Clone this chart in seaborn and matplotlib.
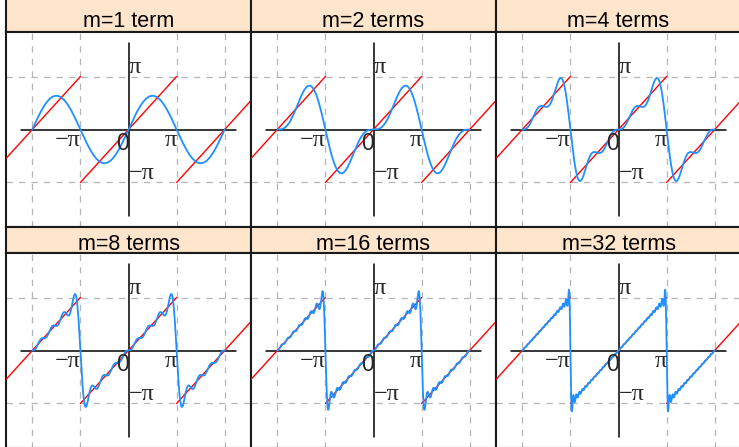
import numpy as np
import pandas as pd
import matplotlib
matplotlib.use("Agg")
import matplotlib.pyplot as plt
import seaborn as sns

# ---- data ----
term_counts = [1, 2, 4, 8, 16, 32]
panel_titles = ["m=1 term", "m=2 terms", "m=4 terms",
                "m=8 terms", "m=16 terms", "m=32 terms"]
x_tick_values = [-np.pi, np.pi]
x_tick_labels = ["\u2212\u03c0", "\u03c0"]
y_tick_values = [np.pi, -np.pi]
y_tick_labels = ["\u03c0", "\u2212\u03c0"]
grid_x = [-2 * np.pi, -np.pi, np.pi, 2 * np.pi]
grid_y = [-np.pi, np.pi]
saw_pieces = [(-8.0, -np.pi, 2 * np.pi), (-np.pi, np.pi, 0.0), (np.pi, 8.0, -2 * np.pi)]

sns.set_style("white")
plt.rcParams["font.family"] = ["Liberation Sans", "DejaVu Sans"]

W, H = 739, 447
fig = plt.figure(figsize=(W / 100, H / 100), dpi=100)

col_left = [6, 251, 496]
pw = 245
panel_rows = [(32, 227), (253, 448)]
strip_rows = [(-10, 32), (227, 253)]
baselines = [27, 249.5]

XL, YL = 8.0, 5.78
STRIP = "#FFE5CC"
BLUE = "#1E90FF"
SERIF = ["Liberation Serif", "DejaVu Serif"]

def px_axes(x0, y0, x1, y1):
    return fig.add_axes([x0 / W, 1 - y1 / H, (x1 - x0) / W, (y1 - y0) / H])

xs = np.linspace(-2 * np.pi, 2 * np.pi, 3000)
saw_rows = []
for i, (a, b, off) in enumerate(saw_pieces):
    sx = np.linspace(a, b, 50)
    for v in sx:
        saw_rows.append({"x": v, "y": v + off, "seg": i})
saw_df = pd.DataFrame(saw_rows)

for idx, m in enumerate(term_counts):
    r, c = divmod(idx, 3)
    x0 = col_left[c]
    x1 = x0 + pw
    # strip
    sy0, sy1 = strip_rows[r]
    sax = px_axes(x0, sy0, x1, sy1)
    sax.set_facecolor(STRIP)
    sax.set_xticks([]); sax.set_yticks([])
    sax.set_xlim(0, 1); sax.set_ylim(0, 1)
    for s in sax.spines.values():
        s.set_color("#1a1a1a"); s.set_linewidth(1.5)
    frac = (sy1 - baselines[r]) / (sy1 - sy0)
    sax.text(0.5, frac, panel_titles[idx], ha="center", va="baseline",
             fontsize=15.5, color="black")

    # panel
    py0, py1 = panel_rows[r]
    ax = px_axes(x0, py0, x1, py1)
    ax.set_facecolor("white")
    ax.set_xlim(-XL, XL); ax.set_ylim(-YL, YL)
    ax.set_xticks([]); ax.set_yticks([])
    for s in ax.spines.values():
        s.set_color("#1a1a1a"); s.set_linewidth(1.5)
    for gx in grid_x:
        ax.axvline(gx, color="#B5B5B5", lw=0.9, ls=(0, (5, 5)), zorder=1)
    for gy in grid_y:
        ax.axhline(gy, color="#B5B5B5", lw=0.9, ls=(0, (5, 5)), zorder=1)
    ax.plot([-7, 7], [0, 0], color="black", lw=1.1, zorder=2)
    ax.plot([0, 0], [-5.1, 5.1], color="black", lw=1.1, zorder=2)

    sns.lineplot(data=saw_df, x="x", y="y", units="seg", estimator=None,
                 sort=False, color="red", lw=1.0, ax=ax, legend=False, zorder=3)
    k = np.arange(1, m + 1)
    ys = 2 * np.sum(((-1.0) ** (k + 1) / k)[:, None] * np.sin(np.outer(k, xs)), axis=0)
    cdf = pd.DataFrame({"x": xs, "y": ys})
    sns.lineplot(data=cdf, x="x", y="y", sort=False, color=BLUE, lw=1.3,
                 ax=ax, legend=False, zorder=4)
    ax.set_xlabel(""); ax.set_ylabel("")
    ax.set_xlim(-XL, XL); ax.set_ylim(-YL, YL)

    for v, lab in zip(x_tick_values, x_tick_labels):
        ax.text(v, -0.95, lab, ha="right", va="baseline", fontsize=17.5,
                family=SERIF, zorder=5)
    for v, lab in zip(y_tick_values, y_tick_labels):
        ax.text(0.02, v + 0.18, lab, ha="left", va="baseline", fontsize=17.5,
                family=SERIF, zorder=5)
    ax.text(0.02, -1.2, "0", ha="right", va="baseline", fontsize=16.5, zorder=5)

fig.savefig("out.png", dpi=100)
